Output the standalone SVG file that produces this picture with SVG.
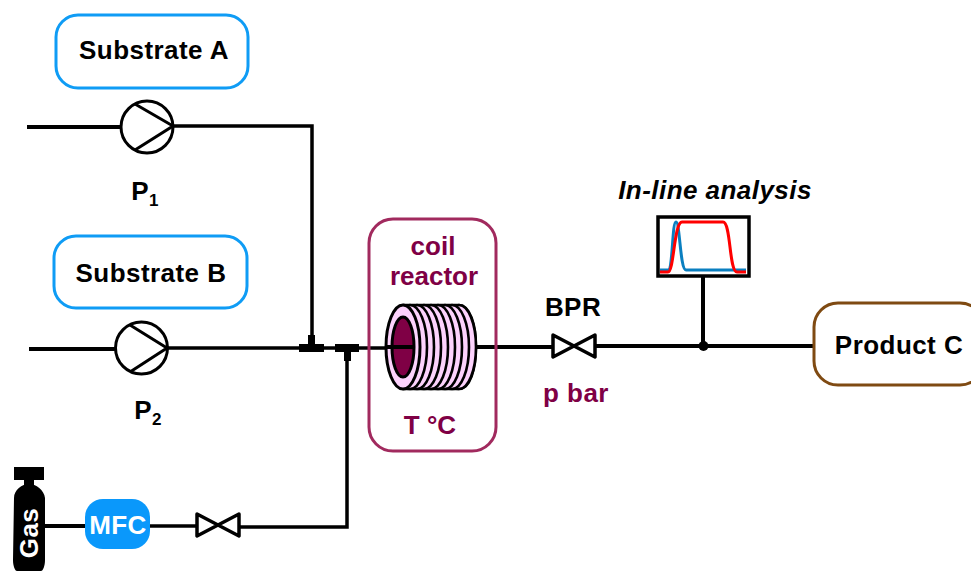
<svg xmlns="http://www.w3.org/2000/svg" width="971" height="571" viewBox="0 0 971 571">
<style>
text{font-family:"Liberation Sans",Arial,sans-serif;font-weight:700;font-size:26px;letter-spacing:.45px;text-anchor:middle}
.l{fill:none;stroke:#000;stroke-width:3.5}
.t{fill:none;stroke:#000;stroke-width:4}
.p{fill:#fff;stroke:#000;stroke-width:3}
.a{fill:none;stroke:#000;stroke-width:3}
.v{fill:#fff;stroke:#000;stroke-width:3.5;stroke-linejoin:round}
.m{fill:#7f0045}
.w{fill:#fff}
.c{fill:#fcd2fc;stroke:#000;stroke-width:2.6}
</style>
<rect width="971" height="571" fill="#fff"/>
<g id="connectors">
<path class="t" d="M27 127H121"/>
<path class="l" d="M174 126H312V342"/>
<path class="t" d="M29 349H115"/>
<path class="l" d="M168 348H390"/>
<path class="l" d="M347 350V527H240"/>
<path class="l" d="M197 526H150"/>
<path class="t" d="M85 526H44"/>
<path class="t" d="M387 347H476"/>
<path class="t" d="M476 347H553"/>
<path class="t" d="M595 346H815"/>
<path class="t" d="M703 276V346"/>
<rect x="299" y="344" width="25" height="8" fill="#000"/>
<rect x="308" y="335" width="7" height="10" fill="#000"/>
<rect x="335" y="344" width="24" height="8" fill="#000"/>
<rect x="344" y="351" width="7" height="10" fill="#000"/>
<circle cx="703.500" cy="346" r="5" fill="#000"/>
</g>
<g id="substrate-a"><rect x="56" y="15" width="192" height="73" rx="22" fill="#fff" stroke="#0f9cf5" stroke-width="3"/><text x="154" y="59">Substrate A</text></g>
<g id="substrate-b"><rect x="54" y="236" width="193" height="72" rx="22" fill="#fff" stroke="#0f9cf5" stroke-width="3"/><text x="151" y="282">Substrate B</text></g>
<g id="pump-1"><circle class="p" cx="147" cy="127" r="26"/><path class="a" d="M135 104L173 126L135 150"/><text x="145" y="200">P<tspan font-size="17" dy="6">1</tspan></text></g>
<g id="pump-2"><circle class="p" cx="141.500" cy="348" r="26"/><path class="a" d="M130 325L167 348L130 372"/><text x="148" y="419">P<tspan font-size="17" dy="6">2</tspan></text></g>
<g id="reactor">
<rect x="369" y="219" width="127" height="232" rx="24" fill="none" stroke="#a12a5e" stroke-width="3"/>
<text x="433" y="255" class="m" style="letter-spacing:0">coil</text>
<text x="434" y="285" class="m" style="letter-spacing:0">reactor</text>
<path class="c" d="M404 305H459C470 305 476 325 476 347C476 369 470 389 459 389H404Z"/>
<ellipse class="c" cx="459" cy="347" rx="17" ry="42"/>
<ellipse class="c" cx="452" cy="347" rx="17" ry="42"/>
<ellipse class="c" cx="445" cy="347" rx="17" ry="42"/>
<ellipse class="c" cx="438" cy="347" rx="17" ry="42"/>
<ellipse class="c" cx="431" cy="347" rx="17" ry="42"/>
<ellipse class="c" cx="424" cy="347" rx="17" ry="42"/>
<ellipse class="c" cx="417" cy="347" rx="17" ry="42"/>
<ellipse class="c" cx="410" cy="347" rx="17" ry="42"/>
<ellipse cx="403" cy="347" rx="17" ry="42" fill="#fcd2fc" stroke="#000" stroke-width="3"/>
<ellipse cx="403" cy="347" rx="11" ry="30" fill="#7f0045" stroke="#000" stroke-width="3"/>
<path d="M387 347H414" stroke="#000" stroke-width="4"/>
<text x="430" y="434" class="m" style="letter-spacing:0">T °C</text>
</g>
<g id="bpr"><path class="v" d="M553 335L595 357V335L553 357Z"/><text x="573" y="316">BPR</text><text x="576" y="402" class="m">p bar</text></g>
<g id="analysis">
<text x="715" y="199" style="font-style:italic">In-line analysis</text>
<rect x="658" y="217" width="91" height="59" fill="#fff" stroke="#000" stroke-width="3.500"/>
<path d="M660 270H668C673 270 672 222 676 222C680 222 680 270 686 270H746" fill="none" stroke="#0a7fc0" stroke-width="3"/>
<path d="M660 272H668C674 272 674 222 682 222H723C731 222 729 272 737 272H746" fill="none" stroke="#f00" stroke-width="3"/>
</g>
<g id="product-c"><rect x="814" y="303" width="170" height="82" rx="24" fill="#fff" stroke="#7f4a12" stroke-width="3"/><text x="899" y="354">Product C</text></g>
<g id="gas">
<rect x="14" y="467" width="30" height="13" fill="#000"/>
<rect x="24" y="479" width="10" height="6" fill="#000"/>
<path d="M14 498C14 490 22 484 29 484C36 484 44 490 45 498V560C45 566 43 571 41 571H17C15 571 13 566 13 560Z" fill="#000"/>
<text transform="translate(38,533) rotate(-90)" class="w">Gas</text>
</g>
<g id="mfc"><rect x="85" y="499" width="65" height="50" rx="18" fill="#0a98fb"/><text x="118" y="534" class="w">MFC</text></g>
<g id="valve"><path class="v" d="M197 514L239 536V514L197 536Z"/></g>
</svg>
